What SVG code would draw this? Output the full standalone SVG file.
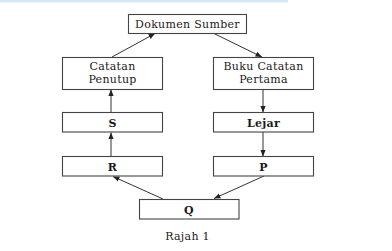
<svg xmlns="http://www.w3.org/2000/svg" width="392" height="251" viewBox="0 0 392 251">
<defs>
<marker id="ah" viewBox="0 0 10 10" refX="10" refY="5" markerWidth="6.5" markerHeight="6.5" markerUnits="userSpaceOnUse" orient="auto">
<path d="M0,1 L10,5 L0,9 z" fill="#222"/>
</marker>
<style>
.box{fill:#fff;stroke:#444;stroke-width:1.1}
.t{font-family:"DejaVu Serif","Liberation Serif",serif;font-size:11px;fill:#1a1a1a;text-anchor:middle;letter-spacing:0.3px}
.b{font-weight:bold}
.c{stroke:#333;stroke-width:1;fill:none;marker-end:url(#ah)}
</style>
</defs>
<rect width="392" height="251" fill="#fff"/>
<rect x="0" y="0" width="288" height="2.5" fill="#d3e8f8"/>
<g id="connectors">
<line class="c" x1="112" y1="57" x2="155" y2="33.5"/>
<line class="c" x1="214" y1="33.5" x2="262" y2="57"/>
<line class="c" x1="263" y1="89" x2="263" y2="112.5"/>
<line class="c" x1="111" y1="112" x2="111" y2="89.5"/>
<line class="c" x1="263" y1="132" x2="263" y2="156.5"/>
<line class="c" x1="111" y1="156" x2="111" y2="132.5"/>
<line class="c" x1="163" y1="199" x2="113" y2="176.5"/>
<line class="c" x1="264" y1="176" x2="214" y2="198.5"/>
</g>
<g id="dokumen"><rect class="box" x="128.5" y="14.5" width="118" height="19"/><text class="t" x="187.5" y="27.5">Dokumen Sumber</text></g>
<g id="catatan"><rect class="box" x="62.5" y="57.5" width="100" height="32"/><text class="t" x="112.5" y="70">Catatan</text><text class="t" x="112.5" y="83">Penutup</text></g>
<g id="buku"><rect class="box" x="213.5" y="57.5" width="100" height="32"/><text class="t" x="263.5" y="70">Buku Catatan</text><text class="t" x="263.5" y="83">Pertama</text></g>
<g id="s"><rect class="box" x="62.5" y="112.5" width="100" height="19.5"/><text class="t b" x="112.5" y="126.5">S</text></g>
<g id="lejar"><rect class="box" x="213.5" y="112.5" width="100" height="19.5"/><text class="t b" x="263.5" y="126.5">Lejar</text></g>
<g id="r"><rect class="box" x="62.5" y="156.5" width="100" height="19.5"/><text class="t b" x="112.5" y="170.5">R</text></g>
<g id="p"><rect class="box" x="213.5" y="156.5" width="100" height="19.5"/><text class="t b" x="263.5" y="170.5">P</text></g>
<g id="q"><rect class="box" x="139.5" y="199.5" width="99.5" height="19.5"/><text class="t b" x="189" y="213.5">Q</text></g>
<text class="t" x="187.5" y="240">Rajah 1</text>
</svg>
